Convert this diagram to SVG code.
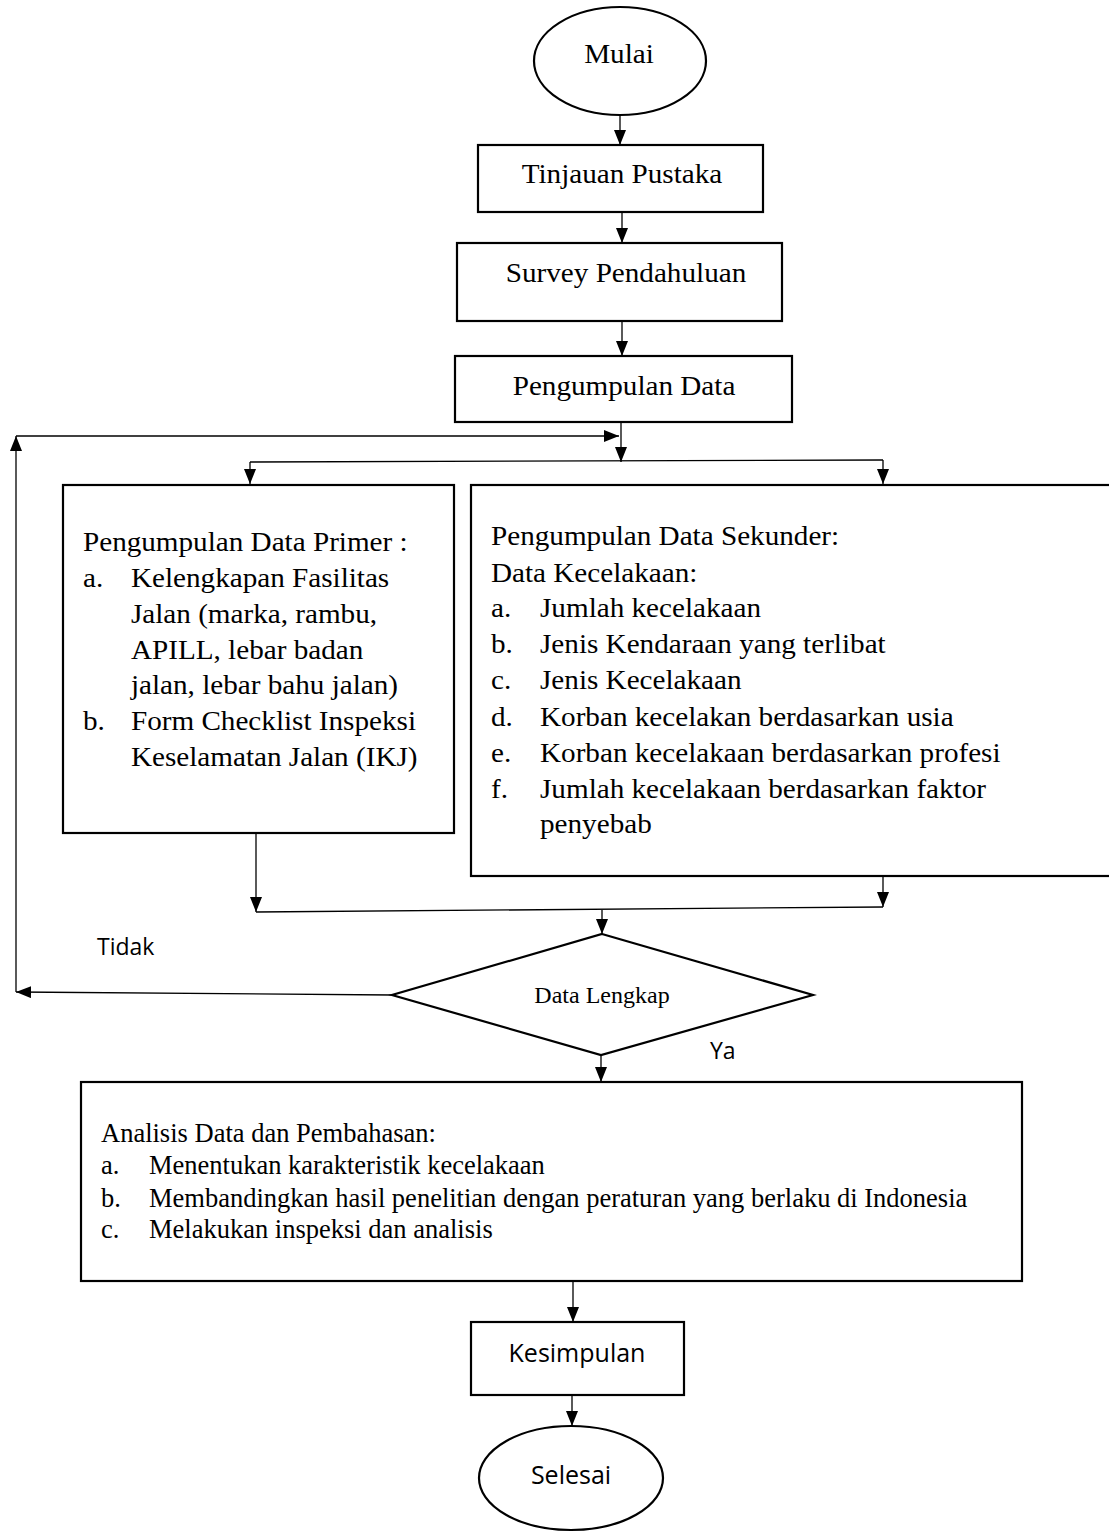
<svg xmlns="http://www.w3.org/2000/svg" width="1109" height="1534" viewBox="0 0 1109 1534">
<style>
.shape{fill:#fff;stroke:#000;stroke-width:2.2}
.conn{fill:none;stroke:#000;stroke-width:1.3}
.serif{font-family:"Liberation Serif","Times New Roman",serif;fill:#000}
.sans{font-family:"Open Sans","Liberation Sans",sans-serif;fill:#000}
.t27{font-size:27px}
.t265{font-size:26.5px}
.t24{font-size:24px}
.t23{font-size:23px}
.t25{font-size:25px}
.mid{text-anchor:middle}
</style>
<defs>
<marker id="arr" markerUnits="userSpaceOnUse" markerWidth="16" markerHeight="12" refX="15" refY="6" orient="auto">
<path d="M0,0 L15,6 L0,12 Z" fill="#000"/>
</marker>
</defs>
<rect width="1109" height="1534" fill="#fff"/>
<g id="connectors">
<line class="conn" x1="620" y1="115" x2="620" y2="145" marker-end="url(#arr)"/>
<line class="conn" x1="622" y1="212" x2="622" y2="243" marker-end="url(#arr)"/>
<line class="conn" x1="622" y1="321" x2="622" y2="356" marker-end="url(#arr)"/>
<line class="conn" x1="621" y1="422" x2="621" y2="462" marker-end="url(#arr)"/>
<line class="conn" x1="250" y1="462" x2="883" y2="460"/>
<line class="conn" x1="250" y1="462" x2="250" y2="484" marker-end="url(#arr)"/>
<line class="conn" x1="883" y1="460" x2="883" y2="484" marker-end="url(#arr)"/>
<line class="conn" x1="256" y1="833" x2="256" y2="912" marker-end="url(#arr)"/>
<line class="conn" x1="883" y1="876" x2="883" y2="907" marker-end="url(#arr)"/>
<line class="conn" x1="256" y1="912" x2="883" y2="907"/>
<line class="conn" x1="602" y1="910" x2="602" y2="934" marker-end="url(#arr)"/>
<line class="conn" x1="392" y1="995" x2="16" y2="992" marker-end="url(#arr)"/>
<line class="conn" x1="16" y1="992" x2="16" y2="436" marker-end="url(#arr)"/>
<line class="conn" x1="16" y1="436" x2="619" y2="436" marker-end="url(#arr)"/>
<line class="conn" x1="601" y1="1055" x2="601" y2="1082" marker-end="url(#arr)"/>
<line class="conn" x1="573" y1="1281" x2="573" y2="1322" marker-end="url(#arr)"/>
<line class="conn" x1="572" y1="1395" x2="572" y2="1426" marker-end="url(#arr)"/>
</g>
<g id="mulai">
<ellipse class="shape" cx="620" cy="61" rx="86" ry="54"/>
<g transform="translate(619,0) scale(1.08,1) translate(-619,0)">
<text class="serif t27 mid" x="619" y="63">Mulai</text>
</g>
</g>
<g id="tinjauan">
<rect class="shape" x="478" y="145" width="285" height="67"/>
<g transform="translate(622,0) scale(1.08,1) translate(-622,0)">
<text class="serif t27 mid" x="622" y="183">Tinjauan Pustaka</text>
</g>
</g>
<g id="survey">
<rect class="shape" x="457" y="243" width="325" height="78"/>
<g transform="translate(626,0) scale(1.08,1) translate(-626,0)">
<text class="serif t27 mid" x="626" y="282">Survey Pendahuluan</text>
</g>
</g>
<g id="pengumpulan">
<rect class="shape" x="455" y="356" width="337" height="66"/>
<g transform="translate(624,0) scale(1.08,1) translate(-624,0)">
<text class="serif t27 mid" x="624" y="395">Pengumpulan Data</text>
</g>
</g>
<g id="primer">
<rect class="shape" x="63" y="485" width="391" height="348"/>
<g transform="translate(83,0) scale(1.08,1) translate(-83,0)">
<text class="serif t27" x="83" y="551">Pengumpulan Data Primer :</text>
<text class="serif t27" x="83" y="587">a.</text>
<text class="serif t27" x="127.4" y="587">Kelengkapan Fasilitas</text>
<text class="serif t27" x="127.4" y="623">Jalan (marka, rambu,</text>
<text class="serif t27" x="127.4" y="659">APILL, lebar badan</text>
<text class="serif t27" x="127.4" y="694">jalan, lebar bahu jalan)</text>
<text class="serif t27" x="83" y="730">b.</text>
<text class="serif t27" x="127.4" y="730">Form Checklist Inspeksi</text>
<text class="serif t27" x="127.4" y="766">Keselamatan Jalan (IKJ)</text>
</g>
</g>
<g id="sekunder">
<rect class="shape" x="471" y="485" width="645" height="391"/>
<g transform="translate(491,0) scale(1.08,1) translate(-491,0)">
<text class="serif t27" x="491" y="545">Pengumpulan Data Sekunder:</text>
<text class="serif t27" x="491" y="582">Data Kecelakaan:</text>
<text class="serif t27" x="491" y="617">a.</text>
<text class="serif t27" x="536.4" y="617">Jumlah kecelakaan</text>
<text class="serif t27" x="491" y="653">b.</text>
<text class="serif t27" x="536.4" y="653">Jenis Kendaraan yang terlibat</text>
<text class="serif t27" x="491" y="689">c.</text>
<text class="serif t27" x="536.4" y="689">Jenis Kecelakaan</text>
<text class="serif t27" x="491" y="726">d.</text>
<text class="serif t27" x="536.4" y="726">Korban kecelakan berdasarkan usia</text>
<text class="serif t27" x="491" y="762">e.</text>
<text class="serif t27" x="536.4" y="762">Korban kecelakaan berdasarkan profesi</text>
<text class="serif t27" x="491" y="798">f.</text>
<text class="serif t27" x="536.4" y="798">Jumlah kecelakaan berdasarkan faktor</text>
<text class="serif t27" x="536.4" y="833">penyebab</text>
</g>
</g>
<g id="keputusan">
<polygon class="shape" points="602,934 813,995 601,1055 392,995"/>
<text class="serif t24 mid" x="602" y="1003">Data Lengkap</text>
</g>
<g id="label-tidak">
<text class="sans t23" x="97" y="955">Tidak</text>
</g>
<g id="label-ya">
<text class="sans t23" x="710" y="1059">Ya</text>
</g>
<g id="analisis">
<rect class="shape" x="81" y="1082" width="941" height="199"/>
<text class="serif t265" x="101" y="1142">Analisis Data dan Pembahasan:</text>
<text class="serif t265" x="101" y="1174">a.</text>
<text class="serif t265" x="149" y="1174">Menentukan karakteristik kecelakaan</text>
<text class="serif t265" x="101" y="1207">b.</text>
<text class="serif t265" x="149" y="1207">Membandingkan hasil penelitian dengan peraturan yang berlaku di Indonesia</text>
<text class="serif t265" x="101" y="1238">c.</text>
<text class="serif t265" x="149" y="1238">Melakukan inspeksi dan analisis</text>
</g>
<g id="kesimpulan">
<rect class="shape" x="471" y="1322" width="213" height="73"/>
<text class="sans t25" x="577" y="1362" text-anchor="middle">Kesimpulan</text>
</g>
<g id="selesai">
<ellipse class="shape" cx="571" cy="1478" rx="92" ry="52"/>
<text class="sans t25 mid" x="571" y="1484">Selesai</text>
</g>
</svg>
